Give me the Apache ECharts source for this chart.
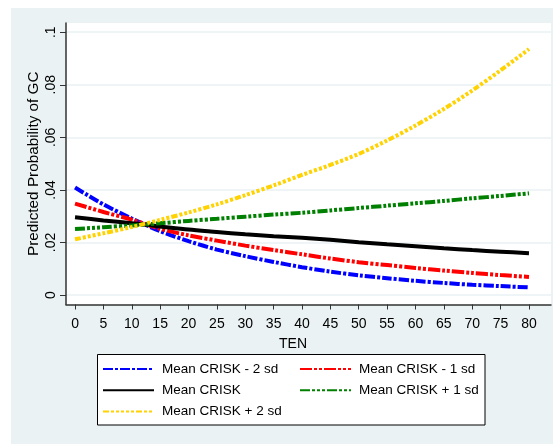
<!DOCTYPE html>
<html>
<head>
<meta charset="utf-8">
<script src="https://cdn.jsdelivr.net/npm/echarts@6/dist/echarts.min.js"></script>
<style>
html,body{margin:0;padding:0;background:#ffffff;}
#panel{position:absolute;left:11px;top:8px;width:542px;height:436px;background:#EAF2F3;}
#chart{position:absolute;left:0;top:0;width:553px;height:444px;}
</style>
</head>
<body>
<div id="panel"></div>
<div id="chart"></div>
<script>
// TEN values (x)
const ten = [0,5,10,15,20,25,30,35,40,45,50,55,60,65,70,75,80];
// Predicted probability of GC
const minus2sd = [0.0409,0.0345,0.0291,0.0243,0.0205,0.0173,0.0148,0.0126,0.0106,0.0089,0.0075,0.0064,0.0054,0.0046,0.0039,0.0034,0.0029];
const minus1sd = [0.0348,0.0316,0.0287,0.0252,0.0227,0.0207,0.0188,0.0171,0.0155,0.0139,0.0125,0.0114,0.0103,0.0093,0.0084,0.0076,0.0069];
const meanCrisk = [0.0296,0.0284,0.0273,0.0261,0.0249,0.0240,0.0231,0.0224,0.0218,0.0210,0.0201,0.0193,0.0186,0.0178,0.0171,0.0165,0.0159];
const plus1sd = [0.0251,0.0258,0.0265,0.0273,0.0282,0.0290,0.0298,0.0306,0.0313,0.0322,0.0331,0.0340,0.0349,0.0358,0.0368,0.0377,0.0387];
const plus2sd = [0.0212,0.0235,0.0259,0.0286,0.0314,0.0345,0.0380,0.0417,0.0457,0.0495,0.0537,0.0588,0.0645,0.0708,0.0778,0.0855,0.0936];
const seriesNames = ['Mean CRISK - 2 sd','Mean CRISK - 1 sd','Mean CRISK','Mean CRISK + 1 sd','Mean CRISK + 2 sd'];
// tick labels
const xTicks = [0,5,10,15,20,25,30,35,40,45,50,55,60,65,70,75,80];
const xTickLabels = ['0','5','10','15','20','25','30','35','40','45','50','55','60','65','70','75','80'];
const yTicks = [0,0.02,0.04,0.06,0.08,0.1];
const yTickLabels = ['0','.02','.04','.06','.08','.1'];

const FONT = "'Liberation Sans', Arial, sans-serif";
const colors = ['#0000FF','#FF0000','#000000','#008000','#FFD200'];
const dashes = [
  [10,2,3,2],
  [12,2,3,2,3,2],
  'solid',
  [10,2,3,2,3,2,3,2],
  [6,2,3,2,3,2,3,2,3,2,3,2]
];
const dataSets = [minus2sd, minus1sd, meanCrisk, plus1sd, plus2sd];

function pairs(vals){ return ten.map((t,i)=>[t, vals[i]]); }

const series = dataSets.map((vals,i)=>({
  name: seriesNames[i],
  type: 'line',
  data: pairs(vals),
  smooth: 0.3,
  symbol: 'none',
  showSymbol: false,
  lineStyle: {color: colors[i], width: 4, type: dashes[i], cap: 'butt'},
  itemStyle: {color: colors[i]},
  emphasis: {disabled: true},
  animation: false
}));

const legendCommon = {
  orient: 'vertical', top: 362, padding: 0,
  itemWidth: 51, itemHeight: 14, itemGap: 7.3, itemStyle: {opacity: 0},
  textStyle: {fontFamily: FONT, fontSize: 13.5, color: '#000', padding: [0, 0, 0, 3]},
  selectedMode: false
};

const chart = echarts.init(document.getElementById('chart'), null, {renderer: 'canvas'});
chart.setOption({
  backgroundColor: 'transparent',
  animation: false,
  grid: {left: 66, right: 2, top: 23, bottom: 139.5, show: true, backgroundColor: '#ffffff', borderWidth: 0, outerBoundsMode: 'none'},
  xAxis: {
    type: 'value', min: -1.59, max: 83.88,
    name: 'TEN', nameLocation: 'middle', nameGap: 33,
    nameTextStyle: {fontFamily: FONT, fontSize: 14, color: '#000', padding: [0, 31, 0, 0]},
    axisLine: {show: true, onZero: false, lineStyle: {color: '#333', width: 1.5}},
    axisTick: {show: true, length: 5, customValues: xTicks, lineStyle: {color: '#333', width: 1}},
    axisLabel: {customValues: xTicks, margin: 12.5, fontFamily: FONT, fontSize: 14, color: '#000',
      formatter: v => xTickLabels[xTicks.indexOf(v)] ?? ''},
    splitLine: {show: false}
  },
  yAxis: {
    type: 'value', min: -0.0036, max: 0.1035,
    name: 'Predicted Probability of GC', nameLocation: 'middle', nameGap: 25, nameMoveOverlap: false,
    nameTextStyle: {fontFamily: FONT, fontSize: 15.3, color: '#000'},
    axisLine: {show: true, onZero: false, lineStyle: {color: '#333', width: 1.5}},
    axisTick: {show: true, length: 6, customValues: yTicks, lineStyle: {color: '#333', width: 1}},
    axisLabel: {customValues: yTicks, rotate: 90, margin: 8, fontFamily: FONT, fontSize: 14, color: '#000',
      formatter: v => { const k = yTicks.findIndex(t => Math.abs(t - v) < 1e-9); return k >= 0 ? yTickLabels[k] : ''; }},
    splitLine: {show: true, lineStyle: {color: '#EAF2F3', width: 1.5}}
  },
  legend: [
    Object.assign({data: [seriesNames[0], seriesNames[2], seriesNames[4]], left: 102}, legendCommon),
    Object.assign({data: [seriesNames[1], seriesNames[3]], left: 299}, legendCommon)
  ],
  graphic: [
    {type: 'rect', shape: {x: 97.5, y: 354.5, width: 387.5, height: 70.5}, style: {fill: '#ffffff', stroke: '#000000', lineWidth: 1}, z: 0, silent: true}
  ],
  series: series
});
</script>
</body>
</html>
